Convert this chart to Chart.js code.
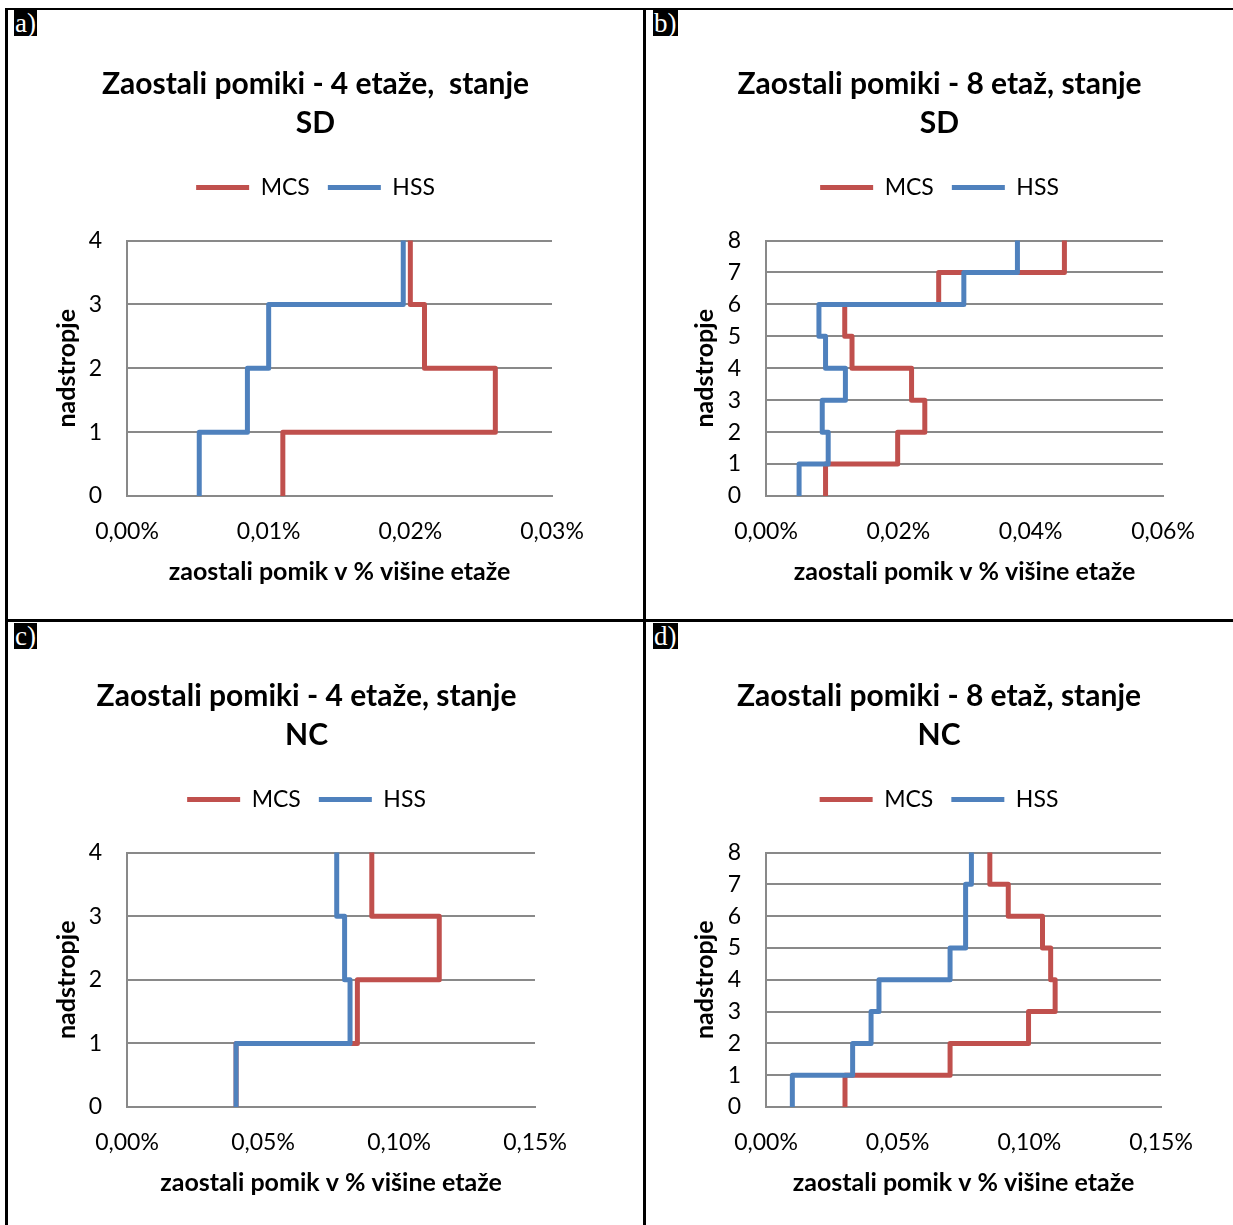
<!DOCTYPE html>
<html>
<head>
<meta charset="utf-8">
<script src="https://cdn.jsdelivr.net/npm/chart.js@4/dist/chart.umd.min.js"></script>
<style>
body { margin: 0; background: #fff; width: 1233px; height: 1225px; position: relative; overflow: hidden; }
.rule { position: absolute; background: #000; }
.tag { position: absolute; background: #000; color: #fff; font-family: "Liberation Serif", serif; font-size: 27px; line-height: 26px; padding: 0 1px; }
canvas { position: absolute; }
</style>
</head>
<body>
<div class="rule" style="left:5px;top:8px;width:1228px;height:2px"></div>
<div class="rule" style="left:5px;top:8px;width:3px;height:1217px"></div>
<div class="rule" style="left:643px;top:8px;width:3px;height:1217px"></div>
<div class="rule" style="left:5px;top:619px;width:1228px;height:3px"></div>

<span class="tag" style="left:14px;top:10px">a)</span>
<span class="tag" style="left:653px;top:10px">b)</span>
<span class="tag" style="left:14px;top:623px">c)</span>
<span class="tag" style="left:653px;top:623px">d)</span>

<canvas id="chartA" width="615" height="610" style="left:8px;top:10px"></canvas>
<canvas id="chartB" width="587" height="610" style="left:646px;top:10px"></canvas>
<canvas id="chartC" width="597" height="603" style="left:8px;top:622px"></canvas>
<canvas id="chartD" width="586" height="603" style="left:646px;top:622px"></canvas>

<script>
// floors (nadstropje)
var floors4 = [0, 1, 2, 3, 4];
var floors8 = [0, 1, 2, 3, 4, 5, 6, 7, 8];

// residual drift in % of storey height, one value per storey (bottom -> top)
// a) 4 etaže, stanje SD
var mcs4SD = [0.0110, 0.0260, 0.0210, 0.0200];
var hss4SD = [0.0051, 0.0085, 0.0100, 0.0195];
// b) 8 etaž, stanje SD
var mcs8SD = [0.0090, 0.0199, 0.0240, 0.0220, 0.0130, 0.0119, 0.0261, 0.0451];
var hss8SD = [0.0050, 0.0094, 0.0085, 0.0120, 0.0090, 0.0080, 0.0299, 0.0380];
// c) 4 etaže, stanje NC
var mcs4NC = [0.0401, 0.0847, 0.1148, 0.0900];
var hss4NC = [0.0401, 0.0820, 0.0800, 0.0771];
// d) 8 etaž, stanje NC
var mcs8NC = [0.0300, 0.0699, 0.0997, 0.1098, 0.1081, 0.1050, 0.0920, 0.0850];
var hss8NC = [0.0100, 0.0329, 0.0399, 0.0429, 0.0699, 0.0758, 0.0758, 0.0780];

// x axis ticks
var xMaxSD4 = 0.03, xStepSD4 = 0.01;
var xMaxSD8 = 0.06, xStepSD8 = 0.02;
var xMaxNC = 0.15, xStepNC = 0.05;

var titleA = ['Zaostali pomiki - 4 etaže,  stanje', 'SD'];
var titleB = ['Zaostali pomiki - 8 etaž, stanje', 'SD'];
var titleC = ['Zaostali pomiki - 4 etaže, stanje', 'NC'];
var titleD = ['Zaostali pomiki - 8 etaž, stanje', 'NC'];

var xTitle = 'zaostali pomik v % višine etaže';
var yTitle = 'nadstropje';

Chart.defaults.font.family = 'Lato';
Chart.defaults.color = '#000';

var red = '#C0504D';
var blue = '#4F81BD';
var gridGrey = '#898989';

// vertical step line: storey i spans floor i .. floor i+1 at x = vals[i]
function stepPoints(vals, floors){
    var pts = [];
    for(var i = 0; i < vals.length; i++){
        pts.push({x: vals[i], y: floors[i]});
        pts.push({x: vals[i], y: floors[i + 1]});
    }
    return pts;
}

function fmtPct(v){
    return v.toFixed(2).replace('.', ',') + '%';
}

function makeChart(id, title, floors, mcs, hss, xMax, xStep, box){
    var ctx = document.getElementById(id);
    return new Chart(ctx, {
        type: 'line',
        data: {
            datasets: [
                {
                    label: 'MCS',
                    data: stepPoints(mcs, floors),
                    borderColor: red,
                    backgroundColor: red,
                    borderWidth: 5,
                    borderCapStyle: 'round',
                    borderJoinStyle: 'round',
                    pointRadius: 0,
                    tension: 0,
                    xAxisID: 'x',
                    yAxisID: 'y',
                    order: 1
                },
                {
                    label: 'HSS',
                    data: stepPoints(hss, floors),
                    borderColor: blue,
                    backgroundColor: blue,
                    borderWidth: 5,
                    borderCapStyle: 'round',
                    borderJoinStyle: 'round',
                    pointRadius: 0,
                    tension: 0,
                    xAxisID: 'x',
                    yAxisID: 'y',
                    order: 0
                }
            ]
        },
        options: {
            responsive: false,
            animation: false,
            layout: { padding: 0 },
            plugins: {
                title: {
                    display: true,
                    text: title,
                    color: '#000',
                    font: { size: 30, weight: 'bold', lineHeight: '39px' },
                    padding: { top: 54.5, bottom: 15.5 }
                },
                legend: {
                    display: true,
                    position: 'top',
                    labels: {
                        usePointStyle: true,
                        pointStyle: 'line',
                        pointStyleWidth: 53,
                        padding: 18,
                        color: '#000',
                        font: { size: 23 },
                        sort: function(a, b){ return a.datasetIndex - b.datasetIndex; }
                    }
                },
                tooltip: { enabled: false }
            },
            scales: {
                x: {
                    type: 'linear',
                    position: 'bottom',
                    min: 0,
                    max: xMax,
                    ticks: { stepSize: xStep, padding: 14, color: '#000', font: { size: 23 }, callback: fmtPct },
                    grid: { display: false },
                    border: { display: true, color: gridGrey, width: 2 },
                    title: { display: true, text: xTitle, color: '#000', font: { size: 25, weight: 'bold' }, padding: { top: 0, bottom: box.xTitlePad } },
                    afterFit: function(s){ s.height = box.xH; }
                },
                gap: {
                    type: 'linear',
                    position: 'top',
                    ticks: { display: false },
                    grid: { display: false },
                    border: { display: false },
                    afterFit: function(s){ s.height = 31.5; }
                },
                y: {
                    type: 'linear',
                    min: 0,
                    max: floors[floors.length - 1],
                    ticks: { stepSize: 1, padding: 25, color: '#000', font: { size: 23 } },
                    grid: { color: gridGrey, lineWidth: 2, drawTicks: false },
                    border: { display: true, color: gridGrey, width: 2 },
                    title: { display: true, text: yTitle, color: '#000', font: { size: 25, weight: 'bold' }, padding: { top: 44, bottom: 0 } },
                    afterFit: function(s){ s.width = box.yW; }
                },
                side: {
                    type: 'linear',
                    position: 'right',
                    ticks: { display: false },
                    grid: { display: false },
                    border: { display: false },
                    afterFit: function(s){ s.width = box.padRight; }
                }
            }
        }
    });
}

makeChart('chartA', titleA, floors4, mcs4SD, hss4SD, xMaxSD4, xStepSD4, { padRight: 71, yW: 119, xH: 124, xTitlePad: 33 });
makeChart('chartB', titleB, floors8, mcs8SD, hss8SD, xMaxSD8, xStepSD8, { padRight: 70, yW: 120, xH: 124, xTitlePad: 33 });
makeChart('chartC', titleC, floors4, mcs4NC, hss4NC, xMaxNC, xStepNC, { padRight: 70, yW: 119, xH: 118, xTitlePad: 27 });
makeChart('chartD', titleD, floors8, mcs8NC, hss8NC, xMaxNC, xStepNC, { padRight: 71, yW: 120, xH: 118, xTitlePad: 27 });
</script>
</body>
</html>
